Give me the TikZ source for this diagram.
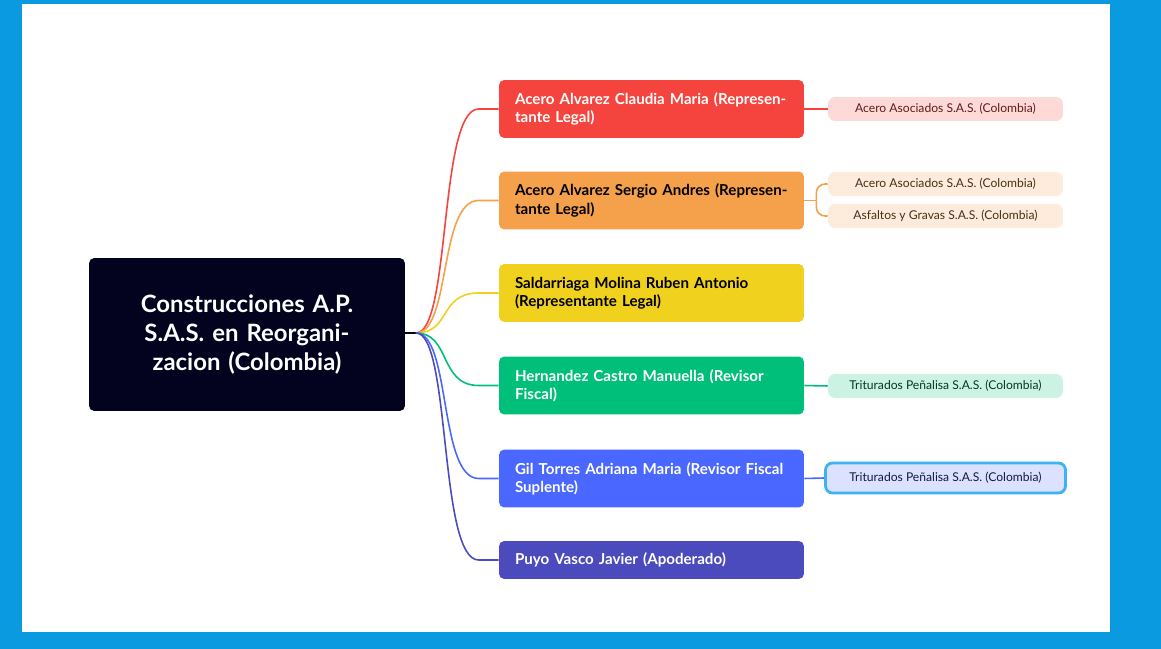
\documentclass[tikz,border=0pt]{standalone}
\usepackage{fontspec}
\setmainfont{Lato}
\usetikzlibrary{calc}
\definecolor{frame}{HTML}{0A9AE0}
\definecolor{rootc}{HTML}{03031F}
\definecolor{redc}{HTML}{F5443D}
\definecolor{orangec}{HTML}{F5A04A}
\definecolor{yellowc}{HTML}{F0D21E}
\definecolor{greenc}{HTML}{00BF7A}
\definecolor{bluec}{HTML}{4A68FF}
\definecolor{purplec}{HTML}{4B4BBE}
\definecolor{selc}{HTML}{3DB4F2}
\tikzset{
  person/.style={rounded corners=3pt, minimum width=6.1cm, minimum height=1.16cm,
    text width=5.46cm, align=left, font=\fontsize{8.6}{10.4}\selectfont\bfseries, inner xsep=0.32cm},
  firm/.style={rounded corners=4pt, minimum width=4.7cm, minimum height=0.48cm,
    font=\fontsize{6.9}{8}\selectfont, inner sep=0pt},
  link/.style={line width=0.9pt}
}
\begin{document}
\begin{tikzpicture}[x=0.02cm, y=-0.02cm]
\fill[frame] (0,0) rectangle (1161,649); % background
\fill[white] (22,4) rectangle (1110,632); % page

% root
\node[fill=rootc, rounded corners=3pt, minimum width=6.32cm, minimum height=3.06cm,
  text width=5.6cm, align=center, text=white, font=\fontsize{13.6}{16.5}\selectfont\bfseries]
  (root) at (247,334.5) {Construcciones A.P. S.A.S. en Reorganizacion (Colombia)};
\coordinate (hub) at (416,333);
\draw[rootc, line width=0.9pt] (root.east |- hub) -- (hub);

% people
\node[person, fill=redc, text=white] (acla) at (651.5,109) {Acero Alvarez Claudia Maria (Representante Legal)};
\node[person, fill=orangec, text=black] (aser) at (651.5,200.5) {Acero Alvarez Sergio Andres (Representante Legal)};
\node[person, fill=yellowc, text=black] (srub) at (651.5,293) {Saldarriaga Molina Ruben Antonio (Representante Legal)};
\node[person, fill=greenc, text=white] (hman) at (651.5,385.5) {Hernandez Castro Manuella (Revisor Fiscal)};
\node[person, fill=bluec, text=white] (gadr) at (651.5,478.5) {Gil Torres Adriana Maria (Revisor Fiscal Suplente)};
\node[person, fill=purplec, text=white, minimum height=0.76cm] (pjav) at (651.5,560) {Puyo Vasco Javier (Apoderado)};

% branches
\foreach \n/\c in {acla/redc, aser/orangec, srub/yellowc, hman/greenc, gadr/bluec, pjav/purplec}
  \draw[link, \c] (hub) .. controls ($(hub)+(35,0)$) and ($(\n.west)+(-60,0)$) .. ($(\n.west)+(-20,0)$) -- (\n.west);

% firms
\node[firm, fill=redc!20, text=redc!40!black] (f1) at (945.5,109) {Acero Asociados S.A.S. (Colombia)};
\node[firm, fill=orangec!20, text=orangec!30!black] (f2) at (945.5,184) {Acero Asociados S.A.S. (Colombia)};
\node[firm, fill=orangec!20, text=orangec!30!black] (f3) at (945.5,216) {Asfaltos y Gravas S.A.S. (Colombia)};
\node[firm, fill=greenc!20, text=greenc!30!black] (f4) at (945.5,386) {Triturados Peñalisa S.A.S. (Colombia)};
\node[firm, fill=bluec!20, text=bluec!25!black, draw=selc, line width=1.6pt, minimum width=4.8cm, minimum height=0.6cm] (f5) at (945.5,478) {Triturados Peñalisa S.A.S. (Colombia)};

\draw[link, redc] (acla.east) -- (f1.west);
\draw[link, orangec] (aser.east) -- ++(12,0) coordinate (ob);
\draw[link, orangec, rounded corners=5pt] (ob) |- (f2.west);
\draw[link, orangec, rounded corners=5pt] (ob) |- (f3.west);
\draw[link, greenc] (hman.east) -- (f4.west);
\draw[link, bluec] (gadr.east) -- (f5.west);
\end{tikzpicture}
\end{document}
